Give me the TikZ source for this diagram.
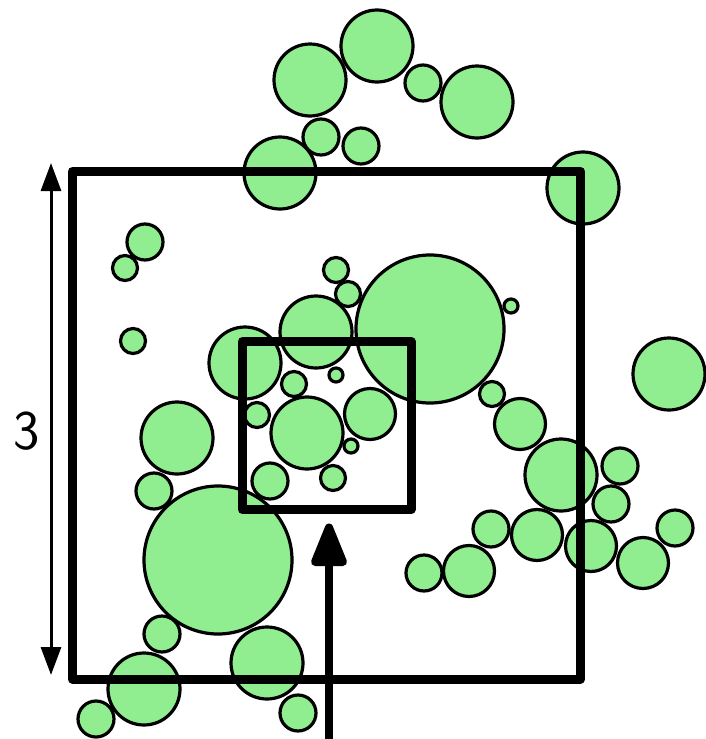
\documentclass[tikz,border=0pt]{standalone}
\usetikzlibrary{arrows.meta}
\definecolor{leaf}{HTML}{90EE90}
\begin{document}
\begin{tikzpicture}[x=1pt,y=-1pt,
  blob/.style={draw=black,fill=leaf,line width=3.2pt},
  frame/.style={draw=black,line width=9pt,line join=round},
  dimline/.style={line width=3pt,{Triangle[length=28pt,width=20pt]}-{Triangle[length=28pt,width=20pt]}},
  shaft/.style={line width=8.5pt},
  headtip/.style={draw=black,fill=black,line width=8pt,line join=round}]
\useasboundingbox (0,0) rectangle (706,739);
% circles: x, y, radius
\foreach \cx/\cy/\r in {
 310/80/36, 377/46/36, 423/83/18, 477/102/36, 321/137/18, 361/146/18,
 280/173/36, 583/188/36, 145/242/18, 125/268/12.5, 133/341/12.5,
 336/270/12.5, 348/294/12.5, 316/332/36, 245/363/36, 336/375/7,
 294/384/12.5, 430/329/74, 511/306/7, 257/415/12.5, 307/433/36,
 370/414/25.5, 351/446/7, 270/481/18, 333/478/12.5, 492/394/12.5,
 520/424/25.5, 669/374/36, 561/475/36, 620/466/18, 611/504/18,
 491/529/18, 537/535/25.5, 591/546/25.5, 675/528/18, 643/563/25.5,
 424/573/18, 469/571/25.5, 177/438/36, 154/491/18, 218/560/74,
 162/634/18, 144/689/36, 96/719/18, 267/663/36, 298/713/18}
  \path[blob] (\cx,\cy) circle[radius=\r];
% frames
\draw[frame] (72.5,171.5) rectangle (580.5,679);
\draw[frame] (242.5,341.5) rectangle (411,509.5);
% dimension arrow and label
\coordinate (dimtop) at (51,163);
\coordinate (dimbot) at (51,675);
\draw[dimline] (dimtop) -- (dimbot);
\node[font=\sffamily\fontsize{56}{56}\selectfont,inner sep=0pt] (lab) at (27,431) {3};
% big arrow
\coordinate (arrowfoot) at (329,745);
\coordinate (arrowbase) at (329,562);
\coordinate (arrowtip) at (329,527.5);
\draw[shaft] (arrowfoot) -- (arrowbase);
\path[headtip] (arrowtip) -- ([xshift=-14pt]arrowbase) -- ([xshift=14pt]arrowbase) -- cycle;
\end{tikzpicture}
\end{document}
